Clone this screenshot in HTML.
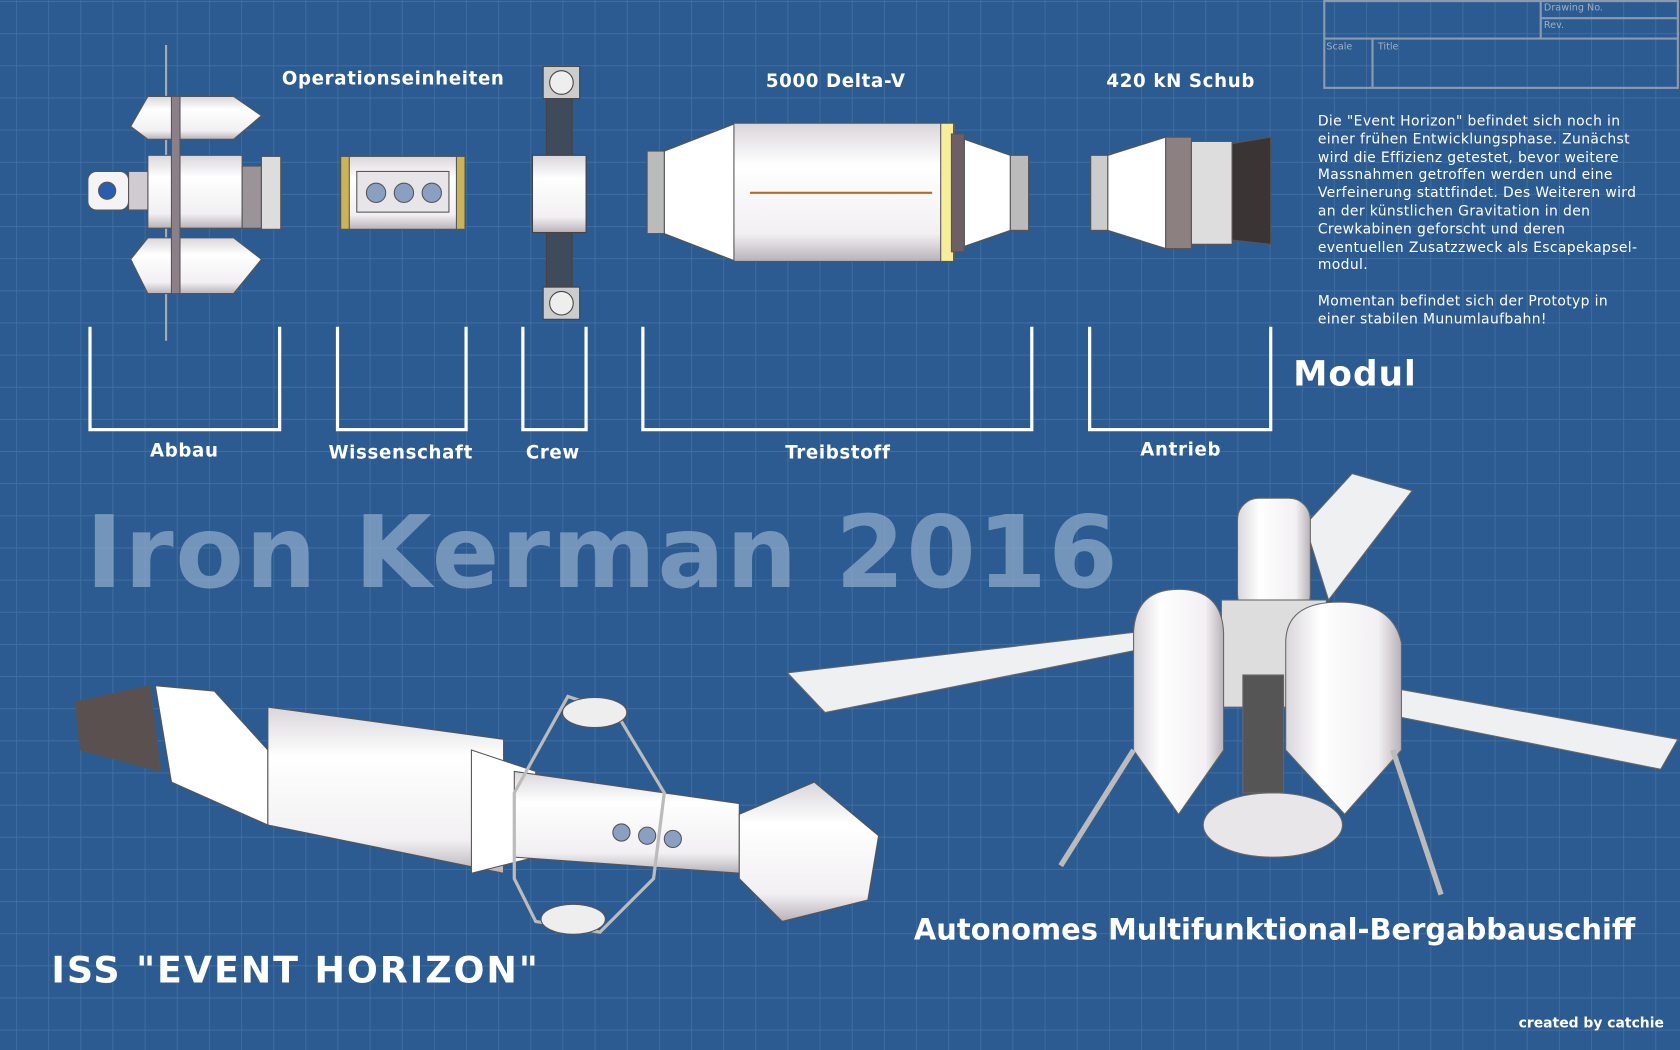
<!DOCTYPE html>
<html><head><meta charset="utf-8"><style>
html,body{margin:0;padding:0;background:#2b5b90;overflow:hidden}
svg{display:block}
text{font-family:"DejaVu Sans","Liberation Sans",sans-serif}
</style></head><body>
<svg width="1680" height="1050" viewBox="0 0 1568 980" xmlns="http://www.w3.org/2000/svg">
<defs>
<pattern id="g" width="30" height="30" patternUnits="userSpaceOnUse" x="15" y="1">
<path d="M0 0H30M0 0V30" stroke="#5b86b6" stroke-width="1.5" fill="none" opacity="0.5"/>
</pattern>
<linearGradient id="cyl" x1="0" y1="0" x2="0" y2="1">
<stop offset="0" stop-color="#d9d6da"/><stop offset="0.3" stop-color="#fff"/><stop offset="0.8" stop-color="#f2f0f2"/><stop offset="1" stop-color="#b8b2b8"/></linearGradient>
<linearGradient id="cylv" x1="0" y1="0" x2="1" y2="0">
<stop offset="0" stop-color="#d9d6da"/><stop offset="0.3" stop-color="#fff"/><stop offset="0.8" stop-color="#f2f0f2"/><stop offset="1" stop-color="#b8b2b8"/></linearGradient>
</defs>
<rect width="1568" height="980" fill="#2b5b90"/>
<rect width="1568" height="980" fill="url(#g)"/>

<g stroke="#8a9bb0" stroke-width="2" fill="none">
<rect x="1236" y="1" width="330" height="81"/>
<line x1="1236" y1="36" x2="1566" y2="36"/>
<line x1="1281" y1="36" x2="1281" y2="82"/>
<line x1="1438" y1="1" x2="1438" y2="36"/>
<line x1="1438" y1="17" x2="1566" y2="17"/>
</g>
<g fill="#9fb0c4" font-size="9"><text x="1441" y="10">Drawing No.</text><text x="1441" y="26">Rev.</text><text x="1238" y="46">Scale</text><text x="1286" y="46">Title</text></g>

<g fill="#fff" font-weight="bold" font-size="17" text-anchor="middle" letter-spacing="0.6">
<text x="367" y="79">Operationseinheiten</text>
<text x="780" y="81">5000 Delta-V</text>
<text x="1102" y="81">420 kN Schub</text>
<text x="172" y="426">Abbau</text>
<text x="374" y="428">Wissenschaft</text>
<text x="516" y="428">Crew</text>
<text x="782" y="428">Treibstoff</text>
<text x="1102" y="425">Antrieb</text>
</g>
<text x="1207" y="360" fill="#fff" font-weight="bold" font-size="32" letter-spacing="1">Modul</text>

<g stroke="#fff" stroke-width="3" fill="none">
<path d="M84 305V401H261V305"/>
<path d="M315 305V401H435V305"/>
<path d="M488 305V401H547V305"/>
<path d="M600 305V401H963V305"/>
<path d="M1017 305V401H1186V305"/>
</g>

<g fill="#fff" font-size="13" letter-spacing="0.35">
<text x="1230" y="117">Die "Event Horizon" befindet sich noch in</text>
<text x="1230" y="134">einer frühen Entwicklungsphase. Zunächst</text>
<text x="1230" y="151">wird die Effizienz getestet, bevor weitere</text>
<text x="1230" y="167">Massnahmen getroffen werden und eine</text>
<text x="1230" y="184">Verfeinerung stattfindet. Des Weiteren wird</text>
<text x="1230" y="201">an der künstlichen Gravitation in den</text>
<text x="1230" y="218">Crewkabinen geforscht und deren</text>
<text x="1230" y="235">eventuellen  Zusatzzweck als Escapekapsel-</text>
<text x="1230" y="251">modul.</text>
<text x="1230" y="285">Momentan befindet sich der Prototyp in</text>
<text x="1230" y="302">einer stabilen Munumlaufbahn!</text>
</g>

<text x="80" y="548" fill="#8ea8c8" fill-opacity="0.75" font-weight="bold" font-size="93" letter-spacing="1.6">Iron Kerman 2016</text>
<text x="48" y="917" fill="#fff" font-weight="bold" font-size="34" letter-spacing="1.8">ISS "EVENT HORIZON"</text>
<text x="853" y="877" fill="#fff" font-weight="bold" font-size="27">Autonomes Multifunktional-Bergabbauschiff</text>
<text x="1553" y="959" fill="#fff" font-weight="bold" font-size="13" text-anchor="end">created by catchie</text>

<g stroke="#555" stroke-width="1">
<line x1="155" y1="42" x2="155" y2="318" stroke="#aaa" stroke-width="2"/>
<path d="M122 118L138 90H218L244 108L218 130H138Z" fill="url(#cyl)"/>
<path d="M122 242L138 222H218L244 242L218 274H138Z" fill="url(#cyl)"/>
<path d="M138 145H226V213H138Z" fill="url(#cyl)"/>
<rect x="82" y="160" width="38" height="36" rx="8" fill="#f4f4f4"/>
<circle cx="100" cy="178" r="8" fill="#2a5db0"/>
<rect x="120" y="160" width="18" height="36" fill="#cfcbd0"/>
<rect x="226" y="155" width="18" height="58" fill="#9a9398"/>
<rect x="244" y="146" width="18" height="68" fill="#ddd"/>
<rect x="160" y="90" width="8" height="184" fill="#8c8088"/>
</g>

<g stroke="#555">
<rect x="318" y="146" width="116" height="68" fill="url(#cyl)"/>
<rect x="318" y="146" width="8" height="68" fill="#c9b45a"/>
<rect x="426" y="146" width="8" height="68" fill="#c9b45a"/>
<rect x="333" y="160" width="86" height="38" fill="#e7e5e8"/>
<circle cx="351" cy="180" r="9" fill="#8aa0c2"/><circle cx="377" cy="180" r="9" fill="#8aa0c2"/><circle cx="403" cy="180" r="9" fill="#8aa0c2"/>
</g>

<g stroke="#444">
<rect x="510" y="86" width="24" height="188" fill="#3f4a5a"/>
<rect x="497" y="145" width="50" height="72" fill="url(#cyl)"/>
<rect x="507" y="62" width="34" height="30" fill="#ccc"/><circle cx="524" cy="77" r="11" fill="#eee"/>
<rect x="507" y="268" width="34" height="30" fill="#ccc"/><circle cx="524" cy="283" r="11" fill="#eee"/>
</g>

<g stroke="#555">
<path d="M620 141L687 115V244L620 218Z" fill="#fff"/>
<rect x="604" y="141" width="16" height="77" fill="#bbb"/>
<rect x="685" y="115" width="206" height="129" fill="url(#cyl)"/>
<line x1="700" y1="180" x2="870" y2="180" stroke="#b86a2a" stroke-width="2"/>
<path d="M900 130L943 145V215L900 230Z" fill="#fff"/>
<rect x="943" y="145" width="17" height="70" fill="#bbb"/>
<rect x="878" y="115" width="12" height="129" fill="#f6ee9a"/>
<rect x="888" y="125" width="12" height="110" fill="#6e5e66"/>
</g>

<g stroke="#555">
<rect x="1018" y="145" width="16" height="70" fill="#ccc"/>
<path d="M1034 145L1088 128V232L1034 215Z" fill="#fff"/>
<rect x="1088" y="128" width="24" height="104" fill="#8c8080"/>
<rect x="1112" y="132" width="38" height="96" fill="#ddd"/>
<path d="M1150 134L1186 128V228L1150 224Z" fill="#3a3434"/>
</g>

<g stroke="#555" stroke-width="1">
<path d="M70 655L140 640L150 720L75 700Z" fill="#5a5050"/>
<path d="M145 640L200 645L250 700L250 770L160 730Z" fill="#fff"/>
<path d="M250 660L470 690L470 815L250 770Z" fill="url(#cyl)"/>
<path d="M440 700L500 720L500 800L440 815Z" fill="#fff"/>
<path d="M480 720L690 750L690 815L480 800Z" fill="url(#cyl)"/>
<circle cx="580" cy="777" r="8" fill="#8aa0c2"/><circle cx="604" cy="780" r="8" fill="#8aa0c2"/><circle cx="628" cy="783" r="8" fill="#8aa0c2"/>
<path d="M480 740L530 650L575 665L620 740L610 820L560 870L500 860L480 820Z" fill="none" stroke="#bbb" stroke-width="3"/>
<ellipse cx="555" cy="665" rx="30" ry="14" fill="#eee"/>
<ellipse cx="535" cy="858" rx="30" ry="14" fill="#eee"/>
<path d="M690 760L760 730L820 780L810 840L730 860L690 820Z" fill="url(#cyl)"/>
</g>

<g stroke="#666" stroke-width="1">
<path d="M735 628L1060 590L1070 605L770 665Z" fill="#eef0f2"/>
<path d="M1260 635L1566 690L1550 718L1260 660Z" fill="#eef0f2"/>
<path d="M1218 490L1262 442L1318 458L1240 560Z" fill="#eef0f2"/>
<rect x="1155" y="465" width="68" height="110" rx="20" fill="url(#cylv)"/>
<rect x="1140" y="560" width="98" height="100" fill="#ddd"/>
<path d="M1058 590Q1060 550 1100 550Q1140 550 1142 590V700L1100 760L1058 700Z" fill="url(#cylv)"/>
<path d="M1200 600Q1200 562 1250 562Q1300 562 1308 600V700L1255 760L1200 700Z" fill="url(#cylv)"/>
<ellipse cx="1188" cy="770" rx="65" ry="30" fill="#e8e6e8"/>
<rect x="1160" y="630" width="38" height="110" fill="#555"/>
<path d="M1058 700L990 808M1300 700L1345 835" stroke="#bbb" stroke-width="5"/>
</g>
</svg>
</body></html>
